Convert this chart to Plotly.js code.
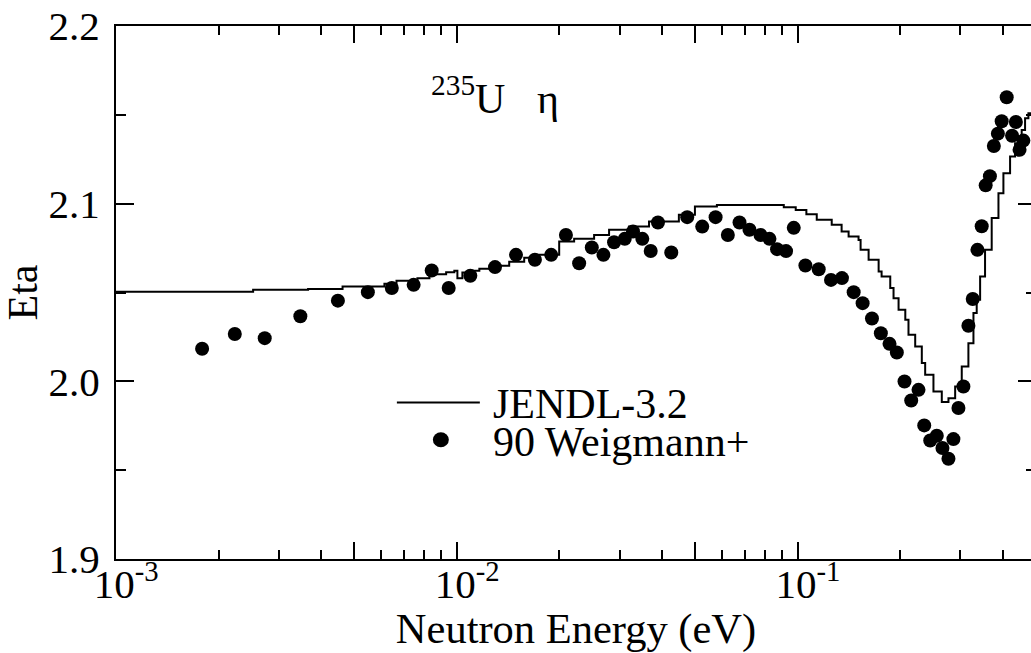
<!DOCTYPE html>
<html>
<head>
<meta charset="utf-8">
<script src="https://cdn.plot.ly/plotly-3.0.1.min.js"></script>
<style>
  html, body { margin: 0; padding: 0; overflow: hidden; background: #ffffff; }
  #chart { width: 1050px; height: 653px; }
</style>
</head>
<body>
<div id="chart"></div>
<script>
// JENDL-3.2 evaluated eta (histogram, step shape)
const jendlE = [0.001, 0.002525, 0.00366, 0.00462, 0.00613, 0.00665, 0.00766, 0.00831, 0.0093, 0.00983, 0.010035, 0.01038,
  0.01088, 0.01164, 0.01288, 0.01424, 0.01576, 0.01744, 0.01996, 0.02208, 0.02527, 0.02796, 0.032, 0.03662, 0.0448, 0.04993,
  0.05792, 0.091, 0.09865, 0.106, 0.1137, 0.1258, 0.1345, 0.141, 0.1508, 0.1529, 0.1614, 0.1727, 0.1762, 0.1868, 0.191,
  0.1976, 0.2068, 0.2113, 0.2211, 0.2312, 0.2365, 0.2501, 0.2646, 0.2768, 0.2896, 0.3028, 0.3167, 0.3277, 0.335, 0.3428,
  0.3544, 0.3707, 0.388, 0.4012, 0.4197, 0.4341, 0.4539, 0.4644, 0.475, 0.5];
const jendlEta = [2.0504, 2.0515, 2.052, 2.0534, 2.0549, 2.0566, 2.058, 2.0603, 2.0614, 2.0623, 2.058, 2.0612,
  2.0622, 2.0633, 2.065, 2.0673, 2.0695, 2.0712, 2.0787, 2.0802, 2.0824, 2.0853, 2.0871, 2.0899, 2.0937, 2.0984,
  2.0993, 2.098, 2.0965, 2.094, 2.0909, 2.0881, 2.0843, 2.0815, 2.0796, 2.074, 2.0684, 2.0618, 2.059, 2.0525, 2.0468,
  2.0403, 2.0346, 2.0262, 2.0196, 2.0103, 2.0037, 1.9943, 1.9883, 1.9905, 1.9971, 2.0083, 2.0215, 2.0384, 2.0459, 2.059,
  2.074, 2.092, 2.1059, 2.1171, 2.1265, 2.134, 2.1415, 2.1481, 2.1509, 2.152];

// 90 Weigmann+ measured eta
const expE = [0.001789, 0.002231, 0.002731, 0.003474, 0.004477, 0.005481, 0.006443, 0.007467, 0.008437, 0.009462,
  0.01095, 0.01294, 0.01491, 0.01694, 0.01891, 0.02089, 0.02284, 0.02488, 0.02691, 0.02892, 0.03108, 0.03287, 0.035,
  0.03704, 0.0389, 0.04256, 0.0474, 0.05246, 0.05741, 0.06237, 0.06749, 0.07218, 0.07777, 0.08261, 0.08697, 0.09241,
  0.09734, 0.1053, 0.1152, 0.1252, 0.1348, 0.1459, 0.155, 0.1651, 0.1753, 0.1859, 0.1953, 0.2057, 0.2152, 0.2261,
  0.235, 0.2447, 0.2558, 0.2658, 0.2768, 0.2862, 0.2961, 0.3062, 0.3167, 0.3261, 0.3366, 0.3465, 0.3559, 0.3662,
  0.3761, 0.3865, 0.3965, 0.4102, 0.4254, 0.4364, 0.4474, 0.459];
const expEta = [2.0183, 2.0266, 2.0243, 2.0366, 2.0454, 2.0502, 2.0525, 2.0543, 2.0624, 2.0525,
  2.0594, 2.0643, 2.0712, 2.0684, 2.0712, 2.0824, 2.0665, 2.0753, 2.0712, 2.0783, 2.0802, 2.0843, 2.0802,
  2.0734, 2.0894, 2.0725, 2.0924, 2.0871, 2.0924, 2.0824, 2.0894, 2.0853, 2.0824, 2.0802, 2.0744, 2.0733,
  2.0864, 2.0652, 2.0631, 2.0571, 2.0581, 2.0502, 2.044, 2.0354, 2.0271, 2.0211, 2.0162, 1.9999, 1.9892, 1.9952,
  1.9752, 1.9667, 1.9694, 1.9625, 1.9564, 1.9675, 1.985, 1.9971, 2.0313, 2.0463, 2.074, 2.0873, 2.1103, 2.1155,
  2.1325, 2.1394, 2.1464, 2.1599, 2.1382, 2.146, 2.1303, 2.1355];

// Axis ticks
const xMajorVals = [0.001, 0.01, 0.1];
const xMajorText = ['\u00A0\u00A010<sup>-3</sup>', '\u00A0\u00A010<sup>-2</sup>', '\u00A0\u00A010<sup>-1</sup>'];
const xMidVals = [0.005, 0.05];
const xMinorVals = [0.002, 0.003, 0.004, 0.006, 0.007, 0.008, 0.009,
  0.02, 0.03, 0.04, 0.06, 0.07, 0.08, 0.09, 0.2, 0.3, 0.4];
const yMajorVals = [1.9, 2.0, 2.1, 2.2];
const yMajorText = ['1.9', '2.0', '2.1', '2.2'];
const yMinorVals = [1.95, 2.05, 2.15];

const legendNames = ['JENDL-3.2', '90 Weigmann+'];
const titleText = '<sup>235</sup>U\u00A0\u00A0\u00A0η';
const xTitle = 'Neutron Energy (eV)';
const yTitle = 'Eta';

// pick the first installed Times-like serif face
function pickFont(cands) {
  const ctx = document.createElement('canvas').getContext('2d');
  const s = 'Neutron Energy (eV) Weigmann JENDL 0123456789 mmmWWWiii';
  for (const f of cands) {
    for (const base of ['monospace', 'sans-serif']) {
      ctx.font = '40px ' + base;
      const w0 = ctx.measureText(s).width;
      ctx.font = '40px "' + f + '", ' + base;
      const w1 = ctx.measureText(s).width;
      if (Math.abs(w1 - w0) > 0.5) return f;
    }
  }
  return 'serif';
}
const FONT = pickFont(['Liberation Serif', 'Times New Roman', 'Tinos', 'Times', 'Nimbus Roman', 'FreeSerif', 'DejaVu Serif', 'Noto Serif']);

const xRange = [-3, Math.log10(0.5)];
const yRange = [1.9, 2.2];

const traces = [
  {
    x: jendlE, y: jendlEta, type: 'scatter', mode: 'lines', name: legendNames[0],
    line: { color: '#000000', width: 2, shape: 'hv' }, showlegend: false
  },
  {
    x: expE, y: expEta, type: 'scatter', mode: 'markers', name: legendNames[1],
    marker: { color: '#000000', size: 14, symbol: 'circle' }, showlegend: false
  },
  {
    x: [expE[0]], y: [expEta[0]], xaxis: 'x2', yaxis: 'y2', type: 'scatter', mode: 'markers',
    marker: { opacity: 0 }, showlegend: false, hoverinfo: 'skip'
  },
  {
    x: [expE[0]], y: [expEta[0]], xaxis: 'x3', yaxis: 'y2', type: 'scatter', mode: 'markers',
    marker: { opacity: 0 }, showlegend: false, hoverinfo: 'skip'
  }
];

const W = 1050, H = 653;
const L = 116, R = 13.6, T = 26, B = 93.7;
const pw = W - L - R, ph = H - T - B;
function px2x(p) { return (p - L) / pw; }
function px2y(p) { return (H - B - p) / ph; }

const layout = {
  width: W, height: H,
  margin: { l: L, r: R, t: T, b: B, pad: 0 },
  paper_bgcolor: '#ffffff', plot_bgcolor: '#ffffff',
  showlegend: false,
  font: { family: FONT, size: 41, color: '#000000' },
  xaxis: {
    type: 'log', range: xRange, tickmode: 'array', tickvals: xMajorVals, ticktext: xMajorText,
    ticks: 'inside', ticklen: 17, tickwidth: 2, tickcolor: '#000',
    showline: true, linewidth: 2, linecolor: '#000', mirror: 'ticks',
    showgrid: false, zeroline: false,
    tickfont: { family: FONT, size: 41, color: '#000' },
    ticklabelstandoff: -12,
    title: { text: xTitle, font: { family: FONT, size: 42.5, color: '#000' }, standoff: 3 }
  },
  yaxis: {
    range: yRange, tickmode: 'array', tickvals: yMajorVals, ticktext: yMajorText,
    ticks: 'inside', ticklen: 18, tickwidth: 2, tickcolor: '#000',
    showline: true, linewidth: 2, linecolor: '#000', mirror: 'ticks',
    showgrid: false, zeroline: false,
    tickfont: { family: FONT, size: 41, color: '#000' },
    ticklabelstandoff: 6,
    title: { text: yTitle, font: { family: FONT, size: 42, color: '#000' }, standoff: 4 }
  },
  xaxis2: {
    type: 'log', range: xRange, overlaying: 'x', anchor: 'y2', tickmode: 'array', tickvals: xMinorVals,
    ticks: 'inside', ticklen: 9, tickwidth: 2, tickcolor: '#000', showticklabels: false,
    showline: false, mirror: 'ticks', showgrid: false, zeroline: false
  },
  xaxis3: {
    type: 'log', range: xRange, overlaying: 'x', anchor: 'y2', tickmode: 'array', tickvals: xMidVals,
    ticks: 'inside', ticklen: 17, tickwidth: 2, tickcolor: '#000', showticklabels: false,
    showline: false, mirror: 'ticks', showgrid: false, zeroline: false
  },
  yaxis2: {
    range: yRange, overlaying: 'y', anchor: 'x2', side: 'left', tickmode: 'array', tickvals: yMinorVals,
    ticks: 'inside', ticklen: 10, tickwidth: 2, tickcolor: '#000', showticklabels: false,
    showline: false, mirror: 'ticks', showgrid: false, zeroline: false
  },
  annotations: [
    { xref: 'paper', yref: 'paper', x: px2x(429), y: px2y(96), xanchor: 'left', yanchor: 'middle',
      text: titleText, showarrow: false, font: { family: FONT, size: 42, color: '#000' } },
    { xref: 'paper', yref: 'paper', x: px2x(491), y: px2y(404), xanchor: 'left', yanchor: 'middle',
      text: legendNames[0], showarrow: false, font: { family: FONT, size: 42, color: '#000' } },
    { xref: 'paper', yref: 'paper', x: px2x(491), y: px2y(442), xanchor: 'left', yanchor: 'middle',
      text: legendNames[1], showarrow: false, font: { family: FONT, size: 42, color: '#000' } }
  ],
  shapes: [
    { type: 'line', xref: 'paper', yref: 'paper', x0: px2x(397), x1: px2x(480), y0: px2y(402.7), y1: px2y(402.7),
      line: { color: '#000', width: 2 } },
    { type: 'circle', xref: 'paper', yref: 'paper', x0: px2x(441 - 8), x1: px2x(441 + 8),
      y0: px2y(440 + 7.5), y1: px2y(440 - 7.5), fillcolor: '#000', line: { color: '#000', width: 0 } }
  ]
};

Plotly.newPlot('chart', traces, layout, { staticPlot: true, displayModeBar: false });
</script>
</body>
</html>
